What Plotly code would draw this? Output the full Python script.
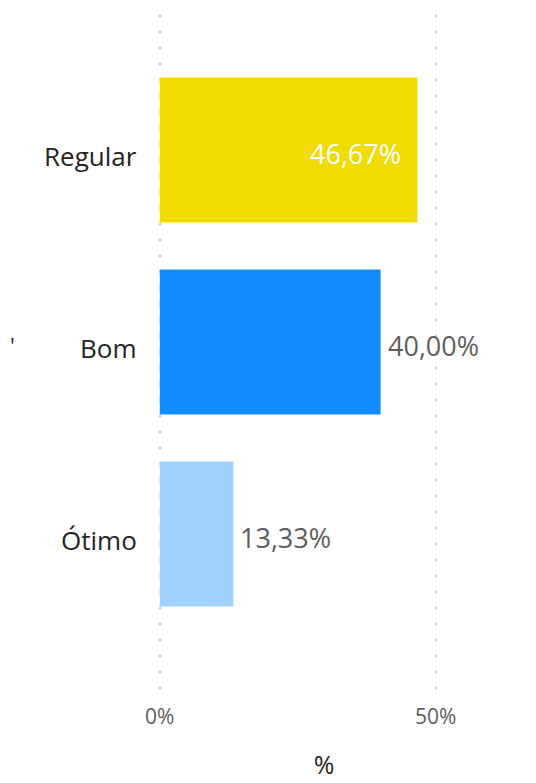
import plotly.graph_objects as go

categorias = ["Regular", "Bom", "Ótimo"]
percentuais = [46.67, 40.00, 13.33]
cores = ["#F0DC00", "#118DFF", "#A0D1FF"]
rotulos = ["46,67%", "40,00%", "13,33%"]
ticks_x = [0, 50]
ticks_texto = ["0%", "50%"]

FONTE = "Open Sans"

fig = go.Figure()
fig.add_trace(go.Bar(
    x=percentuais,
    y=categorias,
    orientation="h",
    marker=dict(color=cores, line=dict(width=0)),
    width=0.755,
    hoverinfo="skip",
))

# rótulos de dados: dentro da barra (branco) na maior, fora nas demais
for cat, val, txt in zip(categorias, percentuais, rotulos):
    dentro = val > 45
    fig.add_annotation(
        x=val, y=cat, text=txt, showarrow=False,
        xanchor="right" if dentro else "left",
        xshift=-14 if dentro else 5, yshift=-4,
        font=dict(family=FONTE, size=27,
                  color="#FFFFFF" if dentro else "#605E5C"),
    )

# nomes das categorias (um pouco abaixo do centro, como no original)
for cat in categorias:
    fig.add_annotation(
        x=0, y=cat, xref="paper", yref="y", text=cat, showarrow=False,
        xanchor="right", xshift=-18, yshift=-6,
        font=dict(family=FONTE, size=26, color="#252423"),
    )

# resto do título do eixo y, cortado na borda
fig.add_annotation(
    x=-0.433, y="Bom", xref="paper", yref="y", text="'", showarrow=False,
    xanchor="center", yshift=-3,
    font=dict(family=FONTE, size=22, color="#252423"),
)

fig.update_layout(
    width=536, height=783,
    margin=dict(l=149, r=53, t=7, b=101, autoexpand=False),
    paper_bgcolor="white", plot_bgcolor="white",
    showlegend=False,
    font=dict(family=FONTE, color="#252423"),
    xaxis=dict(
        range=[-0.5, 60], tickvals=ticks_x, ticktext=ticks_texto,
        showgrid=True, gridcolor="#C8C6C4", griddash="2px,14px", gridwidth=1.5,
        zeroline=False, showline=False, ticks="",
        tickfont=dict(size=21, color="#605E5C"),
        ticklabelstandoff=12,
        automargin=False,
        title=dict(text="%", font=dict(size=25, color="#252423"), standoff=27),
    ),
    yaxis=dict(
        categoryorder="array", categoryarray=categorias[::-1],
        range=[-0.8125, 2.703],
        showgrid=False, zeroline=False, showline=False, ticks="",
        showticklabels=False,
        automargin=False,
    ),
)

fig.write_html("out.html")
